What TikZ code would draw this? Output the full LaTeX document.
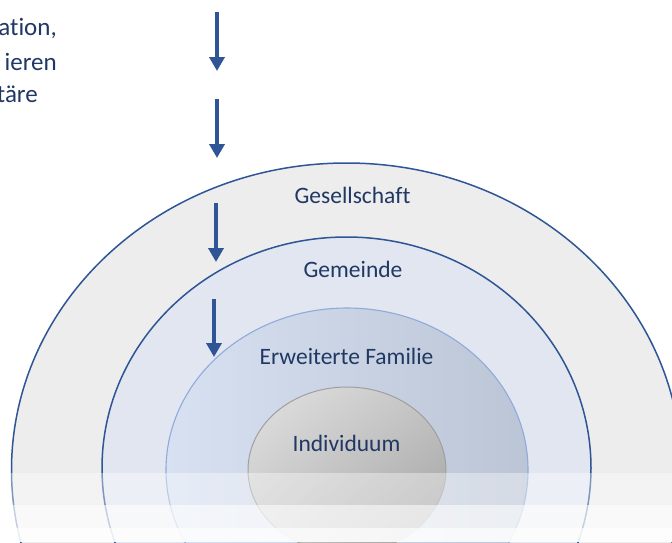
\documentclass[tikz,border=0pt]{standalone}
\usepackage{fontspec}
\setmainfont[Ligatures=NoCommon]{Carlito}
\usetikzlibrary{arrows.meta,shadings}
\definecolor{navy}{RGB}{32,56,100}
\definecolor{ringblue}{RGB}{47,85,151}
\definecolor{softblue}{RGB}{143,170,220}
\definecolor{outerfill}{RGB}{237,237,237}
\definecolor{midfill}{RGB}{225,230,240}
\definecolor{famleft}{RGB}{216,225,242}
\definecolor{famright}{RGB}{188,197,213}
\definecolor{indlight}{RGB}{226,226,226}
\definecolor{inddark}{RGB}{158,158,158}
\definecolor{indmid}{RGB}{196,196,196}
\tikzset{
  ringlabel/.style={inner sep=0pt, anchor=base, text=navy, font=\fontsize{23.5}{28}\selectfont},
  sidetext/.style={inner sep=0pt, anchor=base east, text=navy, font=\fontsize{25}{30}\selectfont},
  downarrow/.style={draw=ringblue, line width=4pt, -{Triangle[width=15pt,length=14pt]}},
  ringline/.style={draw=ringblue, line width=1.5pt},
}
\begin{document}
\begin{tikzpicture}[x=1pt,y=1pt]
\useasboundingbox (0,0) rectangle (672,-542);
\clip (0,0) rectangle (672,-542);
\fill[white] (0,0) rectangle (672,-542);

% nested rings
\fill[outerfill] (346.5,-470) ellipse [x radius=335, y radius=307];
\fill[midfill] (346.5,-468) ellipse [x radius=244.5, y radius=231];
\shade[left color=famleft, right color=famright] (347,-470) ellipse [x radius=181, y radius=162];
\shade[upper left=indlight, lower right=inddark, upper right=indmid, lower left=indmid]
  (347,-470) ellipse [x radius=99, y radius=83];
\draw[ringline] (346.5,-470) ellipse [x radius=335, y radius=307];
\draw[ringline] (346.5,-468) ellipse [x radius=244.5, y radius=231];
\draw[softblue, line width=1.1pt] (347,-470) ellipse [x radius=181, y radius=162];
\draw[gray!75, line width=1pt] (347,-470) ellipse [x radius=99, y radius=83];

% fading reflection at the bottom
\fill[white, opacity=0.38] (0,-473) rectangle (672,-505);
\fill[white, opacity=0.72] (0,-505) rectangle (672,-528);
\fill[white, opacity=0.9] (0,-528) rectangle (672,-542);

% labels
\node[ringlabel] (ges) at (352.5,-203) {Gesellschaft};
\node[ringlabel] (gem) at (353,-277) {Gemeinde};
\node[ringlabel] (fam) at (346.5,-364) {Erweiterte Familie};
\node[ringlabel] (ind) at (346.5,-451) {Individuum};

% side text, running in from the left edge
\node[sidetext] (t1) at (57,-35) {ation,};
\node[sidetext] (t2) at (57,-70) {ieren};
\node[sidetext] (t3) at (38,-102) {täre};

% arrows
\coordinate (a1s) at (217,-12);  \coordinate (a1e) at (217,-71);
\coordinate (a2s) at (217,-99);  \coordinate (a2e) at (217,-158);
\coordinate (a3s) at (216,-203); \coordinate (a3e) at (216,-262);
\coordinate (a4s) at (214,-299); \coordinate (a4e) at (214,-357);
\draw[downarrow] (a1s) -- (a1e);
\draw[downarrow] (a2s) -- (a2e);
\draw[downarrow] (a3s) -- (a3e);
\draw[downarrow] (a4s) -- (a4e);
\end{tikzpicture}
\end{document}
